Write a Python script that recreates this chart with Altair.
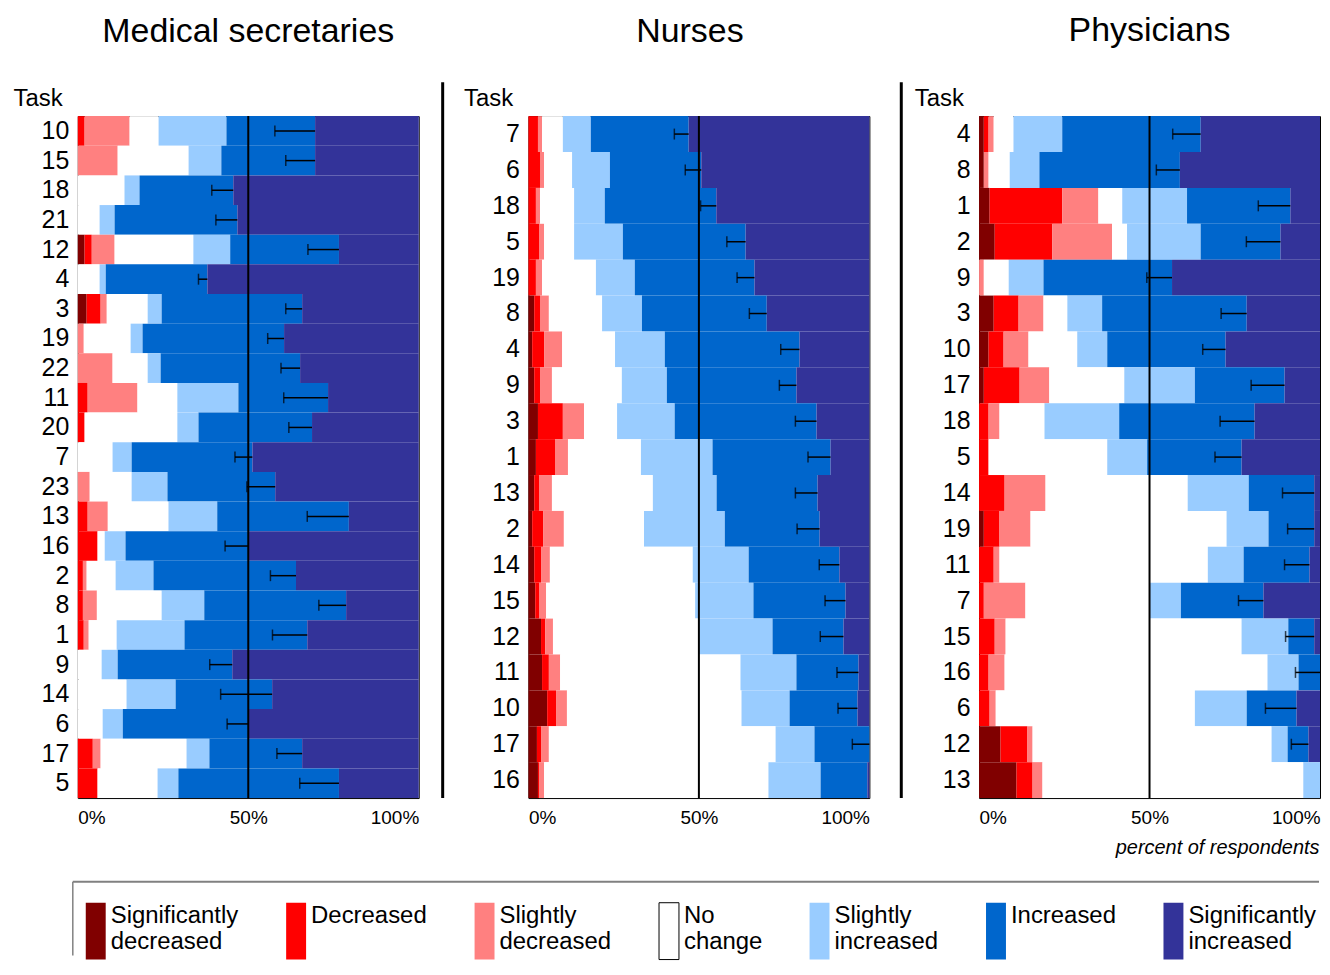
import altair as alt
import pandas as pd

CATS = ["Significantly decreased", "Decreased", "Slightly decreased", "No change",
        "Slightly increased", "Increased", "Significantly increased"]
COLORS = ["#800000", "#FF0000", "#FF8080", "#FFFFFF", "#99CCFF", "#0066CC", "#333399"]
OUTLINES = ["transparent", "transparent", "transparent", "black",
            "transparent", "transparent", "transparent"]

# ---------------- Medical secretaries ----------------
sec_tasks = ["10", "15", "18", "21", "12", "4", "3", "19", "22", "11", "20", "7",
             "23", "13", "16", "2", "8", "1", "9", "14", "6", "17", "5"]
sec_sig_dec = [0, 0, 0, 0, 2.0, 0, 2.6, 0, 0, 0, 0, 0, 0, 0, 0, 0, 0, 0, 0, 0, 0, 0, 0]
sec_dec = [2.0, 0, 0, 0, 2.1, 0, 4.1, 0, 0, 2.9, 2.0, 0, 0, 2.9, 5.8, 1.5, 1.5, 1.75, 0, 0, 0, 4.4, 5.8]
sec_sl_dec = [13.2, 11.7, 0, 0, 6.7, 0, 1.8, 1.75, 10.2, 14.6, 0, 0, 3.5, 5.9, 0, 1.1, 4.1, 1.45, 0, 0, 0, 2.3, 0]
sec_no_change = [8.5, 20.8, 13.7, 6.4, 23.1, 6.4, 12.0, 13.75, 10.3, 11.7, 27.2, 10.2, 12.3, 17.8, 2.1,
                 8.5, 19.0, 8.2, 7.0, 14.3, 7.3, 25.2, 17.6]
sec_sl_inc = [19.9, 9.6, 4.4, 4.4, 10.8, 1.8, 4.1, 3.5, 3.8, 17.9, 6.2, 5.6, 10.5, 14.3, 6.1,
              11.1, 12.5, 19.9, 4.7, 14.4, 5.9, 6.7, 6.1]
sec_inc = [26.0, 27.5, 27.5, 36.0, 31.9, 29.8, 41.2, 41.5, 40.9, 26.3, 33.3, 35.4, 31.6, 38.6, 36.0,
           41.8, 41.6, 36.0, 33.6, 28.3, 36.8, 27.2, 47.1]
sec_sig_inc = [30.4, 30.4, 54.4, 53.2, 23.4, 62.0, 34.2, 39.5, 34.8, 26.6, 31.3, 48.8, 42.1, 20.5, 50.0,
               36.0, 21.3, 32.7, 54.7, 43.0, 50.0, 34.2, 23.4]
sec_err_low = [57.8, 61.0, 39.3, 40.5, 67.5, 35.4, 61.0, 55.7, 59.6, 60.4, 61.9, 46.1, 49.6, 67.3, 43.2,
               56.5, 70.7, 57.1, 38.7, 41.9, 43.8, 58.4, 65.1]

# ---------------- Nurses ----------------
nur_tasks = ["7", "6", "18", "5", "19", "8", "4", "9", "3", "1", "13", "2", "14", "15", "12",
             "11", "10", "17", "16"]
nur_sig_dec = [0, 0, 0, 0, 0, 1.7, 1.1, 1.7, 2.8, 2.2, 1.7, 1.1, 1.7, 2.0, 3.7, 4.0, 5.5, 2.5, 2.8]
nur_dec = [2.8, 3.4, 2.2, 3.1, 2.2, 1.7, 3.5, 1.7, 7.3, 5.6, 1.4, 3.2, 2.0, 1.1, 1.2, 2.0, 2.6, 1.2, 0.3]
nur_sl_dec = [1.2, 1.2, 1.2, 1.5, 1.8, 2.6, 5.3, 3.5, 6.2, 3.8, 3.8, 6.1, 2.6, 2.1, 2.3, 3.3, 3.2, 2.3, 1.5]
nur_no_change = [6.1, 8.2, 10.0, 8.8, 15.8, 15.6, 15.5, 20.5, 9.7, 21.4, 29.6, 23.5, 41.9, 43.7, 42.6,
                 52.9, 51.2, 66.5, 65.8]
nur_sl_inc = [8.2, 11.1, 9.0, 14.3, 11.4, 11.7, 14.6, 13.2, 16.9, 21.0, 18.7, 23.7, 16.4, 17.1, 21.8,
              16.4, 14.1, 11.4, 15.3]
nur_inc = [28.7, 26.8, 32.7, 36.0, 35.1, 36.6, 39.5, 38.0, 41.6, 34.6, 29.6, 27.8, 26.6, 27.0, 20.8,
           18.2, 19.9, 16.1, 13.7]
nur_sig_inc = [53.0, 49.3, 44.9, 36.3, 33.7, 30.1, 20.5, 21.4, 15.5, 11.4, 15.2, 14.6, 8.8, 7.0, 7.6,
               3.2, 3.5, 0, 0.6]
nur_err_low = [42.8, 46.0, 50.5, 58.2, 61.2, 64.8, 74.0, 73.6, 78.3, 82.0, 78.3, 78.8, 85.3, 87.0, 85.6,
               90.5, 90.8, 95.0, None]

# ---------------- Physicians ----------------
phy_tasks = ["4", "8", "1", "2", "9", "3", "10", "17", "18", "5", "14", "19", "11", "7", "15",
             "16", "6", "12", "13"]
phy_sig_dec = [1.4, 1.4, 3.1, 4.6, 0, 4.3, 2.8, 1.4, 0, 0, 0, 1.4, 0, 0, 0, 0, 0, 6.3, 11.0]
phy_dec = [1.4, 0, 21.3, 16.9, 0, 7.3, 4.4, 10.5, 2.8, 2.8, 7.5, 4.6, 4.3, 1.4, 4.6, 2.8, 3.1, 7.9, 4.7]
phy_sl_dec = [1.5, 1.4, 10.6, 17.5, 1.4, 7.3, 7.3, 8.7, 3.2, 0, 12.0, 9.1, 1.7, 12.2, 3.2, 4.7, 1.8, 1.5, 2.9]
phy_no_change = [5.8, 6.2, 7.0, 4.4, 7.3, 7.0, 14.3, 22.0, 13.2, 34.8, 41.7, 57.5, 61.1, 36.5, 69.2,
                 77.1, 58.4, 70.1, 76.5]
phy_sl_inc = [14.3, 8.7, 19.0, 21.6, 10.2, 10.2, 8.8, 20.7, 21.9, 11.7, 17.9, 12.3, 10.5, 9.1, 13.7,
              9.1, 15.2, 4.7, 4.9]
phy_inc = [40.6, 41.2, 30.3, 23.4, 37.7, 42.4, 34.7, 26.3, 39.7, 27.7, 19.2, 13.4, 19.3, 24.2, 7.6,
           6.3, 14.6, 6.1, 0]
phy_sig_inc = [35.0, 41.1, 8.7, 11.6, 43.4, 21.5, 27.7, 10.4, 19.2, 23.0, 1.7, 1.7, 3.1, 16.6, 1.7,
               0, 6.9, 3.4, 0]
phy_err_low = [56.8, 52.0, 81.9, 78.4, 49.2, 71.0, 65.6, 79.8, 70.7, 69.2, 89.0, 90.5, 89.6, 76.1, 89.9,
               92.8, 84.0, 91.6, None]

PANEL_W = 342
PANEL_H = 684


def build_frames(tasks, series, err_low):
    seg_rows, err_rows = [], []
    for i, task in enumerate(tasks):
        vals = [s[i] for s in series]
        total = sum(vals)
        cum = 0.0
        inc_end = None
        for cat, v in zip(CATS, vals):
            if v > 0:
                seg_rows.append({"task": task, "cat": cat,
                                 "start": cum / total, "end": (cum + v) / total})
            cum += v
            if cat == "Increased":
                inc_end = cum / total
        if err_low[i] is not None:
            err_rows.append({"task": task, "lo": err_low[i] / 100.0, "hi": inc_end})
    return pd.DataFrame(seg_rows), pd.DataFrame(err_rows)


def make_legend():
    return alt.Legend(
        title=None, orient="none", legendX=6, legendY=790, direction="horizontal",
        columns=7, columnPadding=45, symbolType="M-1,-1.3H1V4.4H-1Z", symbolSize=400,
        symbolStrokeWidth=1, symbolOpacity=1,
        labelFontSize=24, labelOffset=3, labelColor="black", labelLimit=300,
        labelExpr="datum.label == 'Decreased' || datum.label == 'Increased' ? [datum.label, ''] : split(datum.label, ' ')",
        padding=0,
    )


def panel(title, tasks, series, err_low, title_dy, title_dx, x_title, sep_x, legend_frame):
    seg_df, err_df = build_frames(tasks, series, err_low)
    xscale = alt.Scale(domain=[0, 1], nice=False, zero=True)
    if x_title:
        xaxis = alt.Axis(values=[0, 0.5, 1], format="%", labelFontSize=19, labelFlush=True,
                         ticks=False, domain=False, grid=False, labelPadding=11, labelColor="black",
                         title=x_title, titleFontSize=20, titleFontStyle="italic",
                         titleFontWeight="normal", titleX=PANEL_W - 1, titleY=50,
                         titleAlign="right", titleBaseline="middle", titleColor="black")
    else:
        xaxis = alt.Axis(values=[0, 0.5, 1], format="%", labelFontSize=19, labelFlush=True,
                         ticks=False, domain=False, grid=False, labelPadding=11, labelColor="black",
                         title=None)
    yaxis = alt.Axis(title="Task", titleAngle=0, titleX=-65, titleY=-18, titleAlign="left",
                     titleBaseline="middle", titleFontSize=24, titleFontWeight="normal",
                     titleColor="black", labelFontSize=25, labelPadding=9, ticks=False,
                     domain=False, labelColor="black")
    yscale = alt.Scale(paddingInner=0, paddingOuter=0)

    bars = alt.Chart(seg_df).mark_bar(strokeWidth=0).encode(
        x=alt.X("start:Q", scale=xscale, axis=xaxis),
        x2="end:Q",
        y=alt.Y("task:N", sort=tasks, scale=yscale, axis=yaxis),
        color=alt.Color("cat:N", scale=alt.Scale(domain=CATS, range=COLORS), legend=make_legend()),
        stroke=alt.Stroke("cat:N", scale=alt.Scale(domain=CATS, range=OUTLINES), legend=make_legend()),
    )
    mid = alt.Chart(pd.DataFrame({"m": [0.5]})).mark_rule(color="black", strokeWidth=2).encode(
        x="m:Q")
    err_rule = alt.Chart(err_df).mark_rule(color="black", strokeWidth=1.5).encode(
        x="lo:Q", x2="hi:Q", y=alt.Y("task:N", sort=tasks))
    err_tick = alt.Chart(err_df).mark_tick(color="black", thickness=1.5, size=11,
                                           orient="vertical").encode(
        x="lo:Q", y=alt.Y("task:N", sort=tasks))
    layers = [bars, mid, err_rule, err_tick]
    deco = alt.Chart(pd.DataFrame({"s": [0]}))
    if sep_x is not None:
        layers.append(deco.mark_rule(color="black", strokeWidth=3).encode(
            x=alt.value(sep_x), y=alt.value(-34), y2=alt.value(PANEL_H)))
    if legend_frame:
        layers.append(deco.mark_rule(color="#808080", strokeWidth=2).encode(
            x=alt.value(-5), x2=alt.value(1245), y=alt.value(768)))
        layers.append(deco.mark_rule(color="#808080", strokeWidth=1.5).encode(
            x=alt.value(-5), y=alt.value(768), y2=alt.value(842)))
    return alt.layer(*layers).properties(
        width=PANEL_W, height=PANEL_H,
        title=alt.TitleParams(title, fontSize=34, fontWeight="normal", anchor="middle",
                              frame="group", offset=32, dx=title_dx, dy=title_dy, color="black"),
    )


p1 = panel("Medical secretaries", sec_tasks,
           [sec_sig_dec, sec_dec, sec_sl_dec, sec_no_change, sec_sl_inc, sec_inc, sec_sig_inc],
           sec_err_low, 0, 0, None, PANEL_W + 24, True)
p2 = panel("Nurses", nur_tasks,
           [nur_sig_dec, nur_dec, nur_sl_dec, nur_no_change, nur_sl_inc, nur_inc, nur_sig_inc],
           nur_err_low, 0, -9, None, PANEL_W + 32, False)
p3 = panel("Physicians", phy_tasks,
           [phy_sig_dec, phy_dec, phy_sl_dec, phy_no_change, phy_sl_inc, phy_inc, phy_sig_inc],
           phy_err_low, -6, 0, "percent of respondents", None, False)

chart = alt.hconcat(p1, p2, p3, spacing=110, bounds="flush").properties(
    padding={"left": 4, "top": 4, "right": 0, "bottom": 0}
).configure(font="Liberation Sans").configure_view(stroke="black", strokeWidth=1)

chart.save("out.html", embed_options={"renderer": "svg", "actions": False})
